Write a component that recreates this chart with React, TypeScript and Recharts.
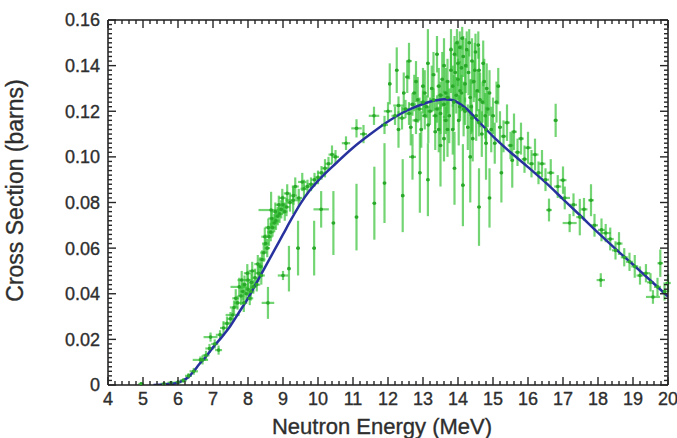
import React from "react";
import {
  ComposedChart,
  Scatter,
  Line,
  XAxis,
  YAxis,
  ErrorBar,
  Label,
} from "recharts";

// evaluated cross section (blue curve): energy in MeV, sigma in barns
const curveEnergy = [
  5.3, 5.6, 5.8, 6.0, 6.15, 6.3, 6.45, 6.6, 6.8, 7.0, 7.25, 7.5, 7.75, 8.0, 8.25, 8.5,
  8.75, 9.0, 9.25, 9.5, 9.75, 10.0, 10.5, 11.0, 11.5, 12.0, 12.5, 13.0, 13.3, 13.6,
  13.8, 14.0, 14.25, 14.5, 15.0, 15.5, 16.0, 16.5, 17.0, 17.5, 18.0, 18.5, 19.0, 19.5, 20.0,
];
const curveSigma = [
  0, 0.0002, 0.0005, 0.001, 0.002, 0.0035, 0.006, 0.009, 0.0125, 0.0165, 0.021, 0.026,
  0.032, 0.038, 0.045, 0.052, 0.059, 0.066, 0.073, 0.0795, 0.085, 0.0895, 0.097, 0.104,
  0.11, 0.1155, 0.12, 0.1232, 0.1246, 0.1253, 0.125, 0.1238, 0.121, 0.117, 0.109, 0.102,
  0.0955, 0.0888, 0.0815, 0.0742, 0.0668, 0.0597, 0.0528, 0.0458, 0.0388,
];

// measurements close to the curve: [energy, sigma, dE, dSigma]
const bandPoints: [number, number, number, number][] = [
  [4.95, 0.0005, 0.08, 0.0008], [5.6, 0.0005, 0.1, 0.0006], [5.8, 0.001, 0.1, 0.0008],
  [6.0, 0.0012, 0.1, 0.001], [6.15, 0.002, 0.1, 0.001], [6.3, 0.004, 0.1, 0.0012],
  [6.45, 0.006, 0.12, 0.0015], [6.64, 0.011, 0.22, 0.0015], [6.7, 0.011, 0.1, 0.002],
  [6.8, 0.013, 0.1, 0.002], [6.93, 0.021, 0.2, 0.002], [6.9, 0.016, 0.12, 0.002],
  [7.05, 0.018, 0.1, 0.002], [7.16, 0.0153, 0.1, 0.002], [7.2, 0.022, 0.12, 0.002],
  [7.3, 0.025, 0.1, 0.003], [7.4, 0.027, 0.12, 0.003], [7.5, 0.029, 0.1, 0.003],
  [7.56, 0.0307, 0.2, 0.003], [7.6, 0.034, 0.12, 0.003], [7.65, 0.038, 0.1, 0.004],
  [7.7, 0.036, 0.1, 0.003], [7.75, 0.043, 0.25, 0.004], [7.8, 0.039, 0.1, 0.004],
  [7.82, 0.046, 0.12, 0.004], [7.85, 0.041, 0.08, 0.004], [7.88, 0.036, 0.1, 0.004],
  [7.9, 0.044, 0.1, 0.004], [7.95, 0.04, 0.08, 0.003], [7.98, 0.049, 0.1, 0.004],
  [8.0, 0.046, 0.1, 0.004], [8.0, 0.042, 0.08, 0.003], [8.05, 0.038, 0.1, 0.003],
  [8.08, 0.041, 0.1, 0.004], [8.1, 0.045, 0.08, 0.004], [8.12, 0.05, 0.1, 0.004],
  [8.15, 0.043, 0.1, 0.003], [8.2, 0.047, 0.08, 0.004], [8.25, 0.044, 0.1, 0.003],
  [8.28, 0.053, 0.1, 0.004], [8.3, 0.049, 0.1, 0.004], [8.35, 0.052, 0.08, 0.004],
  [8.38, 0.048, 0.1, 0.004], [8.4, 0.055, 0.1, 0.004], [8.45, 0.058, 0.1, 0.004],
  [8.48, 0.065, 0.1, 0.004], [8.5, 0.062, 0.1, 0.004], [8.55, 0.06, 0.08, 0.004],
  [8.58, 0.069, 0.1, 0.004], [8.6, 0.065, 0.1, 0.004], [8.65, 0.067, 0.1, 0.004],
  [8.68, 0.073, 0.1, 0.004], [8.7, 0.069, 0.1, 0.004], [8.75, 0.071, 0.1, 0.004],
  [8.78, 0.076, 0.1, 0.004], [8.8, 0.072, 0.1, 0.004], [8.85, 0.074, 0.1, 0.004],
  [8.88, 0.079, 0.1, 0.004], [8.9, 0.075, 0.1, 0.004], [8.95, 0.077, 0.1, 0.004],
  [8.98, 0.082, 0.1, 0.004], [9.0, 0.079, 0.1, 0.004], [9.05, 0.076, 0.08, 0.004],
  [9.1, 0.078, 0.1, 0.004], [9.12, 0.084, 0.1, 0.004], [9.2, 0.08, 0.1, 0.004],
  [9.29, 0.081, 0.22, 0.006], [9.3, 0.083, 0.1, 0.004], [9.35, 0.087, 0.1, 0.004],
  [9.45, 0.082, 0.1, 0.004], [9.55, 0.089, 0.12, 0.004], [9.6, 0.086, 0.1, 0.004],
  [9.7, 0.087, 0.1, 0.003], [9.8, 0.088, 0.12, 0.003], [9.9, 0.09, 0.1, 0.003],
  [10.0, 0.091, 0.1, 0.003], [10.1, 0.093, 0.12, 0.003], [10.2, 0.095, 0.1, 0.004],
  [10.3, 0.097, 0.1, 0.003], [10.4, 0.101, 0.1, 0.004], [10.5, 0.1, 0.1, 0.003],
  [10.8, 0.106, 0.12, 0.003], [11.1, 0.1125, 0.15, 0.004], [11.3, 0.11, 0.1, 0.004],
  [11.6, 0.118, 0.15, 0.004], [11.9, 0.114, 0.1, 0.004], [12.0, 0.12, 0.12, 0.004],
  [12.2, 0.118, 0.1, 0.004], [12.3, 0.1225, 0.15, 0.004], [12.4, 0.117, 0.1, 0.005],
  [12.5, 0.121, 0.1, 0.004], [12.6, 0.119, 0.1, 0.005], [12.7, 0.123, 0.1, 0.005],
  [12.8, 0.116, 0.1, 0.006], [12.9, 0.121, 0.1, 0.005], [13.0, 0.124, 0.1, 0.005],
  [13.05, 0.118, 0.08, 0.006], [13.1, 0.122, 0.1, 0.005], [13.2, 0.12, 0.08, 0.006],
  [13.3, 0.125, 0.1, 0.005], [13.35, 0.118, 0.08, 0.006], [13.4, 0.121, 0.08, 0.006],
  [13.5, 0.127, 0.08, 0.006], [13.6, 0.123, 0.08, 0.006], [13.65, 0.116, 0.08, 0.006],
  [13.7, 0.126, 0.08, 0.007], [14.05, 0.122, 0.05, 0.005], [14.2, 0.12, 0.05, 0.006],
  [14.4, 0.117, 0.05, 0.006], [14.6, 0.115, 0.05, 0.006], [14.8, 0.112, 0.05, 0.006],
  [15.3, 0.109, 0.08, 0.007], [15.4, 0.115, 0.08, 0.008], [15.5, 0.105, 0.08, 0.006],
  [15.6, 0.111, 0.08, 0.008], [15.7, 0.102, 0.08, 0.006], [15.8, 0.108, 0.08, 0.007],
  [15.9, 0.099, 0.08, 0.006], [16.0, 0.104, 0.1, 0.007], [16.1, 0.097, 0.08, 0.006],
  [16.2, 0.101, 0.1, 0.007], [16.3, 0.093, 0.1, 0.005], [16.4, 0.097, 0.1, 0.006],
  [16.5, 0.09, 0.1, 0.005], [16.6, 0.0767, 0.08, 0.005], [16.65, 0.093, 0.1, 0.006],
  [16.79, 0.116, 0.06, 0.0073], [16.85, 0.087, 0.1, 0.005], [17.0, 0.0898, 0.1, 0.006],
  [17.05, 0.082, 0.15, 0.005], [17.19, 0.071, 0.2, 0.004], [17.3, 0.079, 0.1, 0.005],
  [17.48, 0.0736, 0.1, 0.008], [17.6, 0.077, 0.1, 0.005], [17.8, 0.081, 0.08, 0.007],
  [17.9, 0.07, 0.1, 0.005], [18.08, 0.046, 0.12, 0.003], [18.1, 0.068, 0.1, 0.005],
  [18.22, 0.0666, 0.15, 0.004], [18.35, 0.064, 0.1, 0.005], [18.5, 0.059, 0.1, 0.004],
  [18.6, 0.062, 0.1, 0.005], [18.75, 0.056, 0.1, 0.004], [18.9, 0.054, 0.1, 0.004],
  [19.05, 0.052, 0.1, 0.005], [19.2, 0.048, 0.1, 0.004], [19.37, 0.049, 0.12, 0.004],
  [19.5, 0.045, 0.1, 0.004], [19.57, 0.0386, 0.2, 0.003], [19.7, 0.043, 0.1, 0.004],
  [19.78, 0.0534, 0.08, 0.006], [19.9, 0.041, 0.1, 0.004], [20.0, 0.0447, 0.08, 0.004],
];

// scattered measurements around the 14 MeV peak
const peakPoints: [number, number, number, number][] = [
  [12.05, 0.132, 0.05, 0.009], [12.25, 0.138, 0.05, 0.01], [12.3, 0.112, 0.05, 0.008],
  [12.45, 0.128, 0.05, 0.009], [12.55, 0.135, 0.06, 0.007], [12.6, 0.142, 0.08, 0.008],
  [12.65, 0.113, 0.05, 0.008], [12.75, 0.128, 0.06, 0.008], [12.8, 0.133, 0.06, 0.009],
  [12.85, 0.125, 0.05, 0.01], [12.95, 0.112, 0.05, 0.008], [13.0, 0.131, 0.06, 0.008],
  [13.05, 0.128, 0.05, 0.01], [13.15, 0.114, 0.05, 0.008], [13.25, 0.13, 0.05, 0.01],
  [13.3, 0.136, 0.06, 0.01], [13.35, 0.111, 0.05, 0.008], [13.4, 0.145, 0.05, 0.008],
  [13.45, 0.131, 0.06, 0.008], [13.45, 0.112, 0.05, 0.01], [13.5, 0.119, 0.05, 0.009],
  [13.55, 0.134, 0.05, 0.012], [13.6, 0.14, 0.06, 0.012], [13.6, 0.108, 0.05, 0.01],
  [13.65, 0.128, 0.05, 0.011], [13.7, 0.133, 0.06, 0.01], [13.75, 0.118, 0.05, 0.012],
  [13.8, 0.138, 0.05, 0.01], [13.8, 0.147, 0.05, 0.009], [13.85, 0.131, 0.05, 0.009],
  [13.85, 0.112, 0.05, 0.011], [13.88, 0.124, 0.05, 0.012], [13.9, 0.145, 0.05, 0.008],
  [13.92, 0.137, 0.05, 0.013], [13.95, 0.127, 0.05, 0.008], [13.97, 0.15, 0.05, 0.006],
  [14.0, 0.141, 0.05, 0.01], [14.0, 0.134, 0.05, 0.009], [14.02, 0.116, 0.05, 0.011],
  [14.05, 0.148, 0.05, 0.007], [14.06, 0.129, 0.05, 0.013], [14.1, 0.128, 0.05, 0.008],
  [14.1, 0.139, 0.05, 0.01], [14.12, 0.152, 0.05, 0.005], [14.15, 0.144, 0.05, 0.009],
  [14.16, 0.121, 0.05, 0.012], [14.2, 0.132, 0.05, 0.008], [14.22, 0.14, 0.05, 0.012],
  [14.25, 0.147, 0.05, 0.008], [14.28, 0.113, 0.05, 0.01], [14.3, 0.137, 0.05, 0.01],
  [14.32, 0.15, 0.05, 0.006], [14.35, 0.126, 0.05, 0.008], [14.38, 0.122, 0.05, 0.012],
  [14.4, 0.142, 0.05, 0.01], [14.42, 0.108, 0.05, 0.01], [14.45, 0.133, 0.05, 0.009],
  [14.48, 0.138, 0.05, 0.012], [14.5, 0.146, 0.05, 0.008], [14.52, 0.118, 0.05, 0.011],
  [14.55, 0.129, 0.05, 0.009], [14.58, 0.149, 0.05, 0.006], [14.6, 0.138, 0.05, 0.01],
  [14.63, 0.125, 0.05, 0.012], [14.68, 0.11, 0.05, 0.01], [14.7, 0.124, 0.05, 0.009],
  [14.72, 0.141, 0.05, 0.01], [14.75, 0.133, 0.05, 0.01], [14.78, 0.118, 0.05, 0.01],
  [14.82, 0.13, 0.05, 0.011], [14.85, 0.121, 0.05, 0.008], [14.9, 0.128, 0.05, 0.01],
  [14.95, 0.112, 0.05, 0.01], [15.0, 0.118, 0.06, 0.008], [15.05, 0.106, 0.05, 0.009],
  [15.1, 0.124, 0.06, 0.009], [15.15, 0.131, 0.05, 0.008], [15.2, 0.113, 0.06, 0.007],
];

// low-lying measurements with large uncertainties
const broadPoints: [number, number, number, number][] = [
  [8.57, 0.036, 0.18, 0.007], [8.66, 0.0767, 0.36, 0.008], [9.0, 0.048, 0.15, 0.002],
  [9.17, 0.051, 0.05, 0.01], [9.43, 0.06, 0.05, 0.012], [9.89, 0.06, 0.05, 0.012],
  [10.09, 0.077, 0.22, 0.008], [10.44, 0.071, 0.05, 0.014], [11.1, 0.0736, 0.05, 0.0146],
  [11.61, 0.0797, 0.05, 0.016], [11.9, 0.0885, 0.05, 0.0175], [12.42, 0.083, 0.05, 0.016],
  [12.7, 0.1, 0.1, 0.01], [12.91, 0.093, 0.05, 0.0175], [13.14, 0.09, 0.05, 0.016],
  [13.14, 0.141, 0.05, 0.015], [13.5, 0.105, 0.05, 0.018], [13.7, 0.112, 0.05, 0.012],
  [13.9, 0.095, 0.05, 0.016], [14.14, 0.0876, 0.05, 0.018], [14.35, 0.1, 0.05, 0.02],
  [14.6, 0.078, 0.05, 0.017], [14.8, 0.106, 0.05, 0.016], [14.9, 0.082, 0.05, 0.013],
  [15.24, 0.093, 0.05, 0.013], [15.55, 0.0985, 0.05, 0.012],
];

const energyTicks = [4, 5, 6, 7, 8, 9, 10, 11, 12, 13, 14, 15, 16, 17, 18, 19, 20];
const sigmaTicks = [0, 0.02, 0.04, 0.06, 0.08, 0.1, 0.12, 0.14, 0.16];

const xMinor = 5;
const yMinor = 10;
const xTicksAll: number[] = [];
for (let i = 0; i < energyTicks.length - 1; i++) {
  for (let k = 0; k < xMinor; k++) {
    xTicksAll.push(+(energyTicks[i] + (k * (energyTicks[i + 1] - energyTicks[i])) / xMinor).toFixed(4));
  }
}
xTicksAll.push(energyTicks[energyTicks.length - 1]);
const yTicksAll: number[] = [];
for (let i = 0; i < sigmaTicks.length - 1; i++) {
  for (let k = 0; k < yMinor; k++) {
    yTicksAll.push(+(sigmaTicks[i] + (k * (sigmaTicks[i + 1] - sigmaTicks[i])) / yMinor).toFixed(5));
  }
}
yTicksAll.push(sigmaTicks[sigmaTicks.length - 1]);

const isMajorX = (v: number) => energyTicks.some((t) => Math.abs(t - v) < 1e-6);
const isMajorY = (v: number) => sigmaTicks.some((t) => Math.abs(t - v) < 1e-7);
const fmtY = (v: number) => (v === 0 ? "0" : v.toFixed(2));

const toRows = (pts: [number, number, number, number][]) =>
  pts.map(([x, y, dx, dy]) => ({ x, y, dx, dy }));
const curveData = curveEnergy.map((x, i) => ({ x, y: curveSigma[i] }));
const measData = [...toRows(bandPoints), ...toRows(peakPoints), ...toRows(broadPoints)];

const FONT = "'Liberation Sans', Arial, Helvetica, sans-serif";
const AXIS = "#1a1a1a";
const TICK = "#262626";
const TEXT = "#2e2e2e";
const BAR = "#36c236";
const DOT = "#2aa82a";
const CURVE = "#28329e";
const MAJOR = 8;
const MINOR = 4;

const textStyle = { stroke: TEXT, strokeWidth: 0.35 };

const BottomTick = (p: any) => {
  const { x, y, payload } = p;
  const major = isMajorX(payload.value);
  return (
    <g>
      <path d={`M${x},${y}V${y - (major ? MAJOR : MINOR)}`} stroke={TICK} strokeWidth={1.4} fill="none" />
      {major && (
        <text x={x} y={y + 20} textAnchor="middle" fontSize={18} fill={TEXT} fontFamily={FONT} style={textStyle}>
          {payload.value}
        </text>
      )}
    </g>
  );
};

const TopTick = (p: any) => {
  const { x, y, payload } = p;
  const major = isMajorX(payload.value);
  return <path d={`M${x},${y}V${y + (major ? MAJOR : MINOR)}`} stroke={TICK} strokeWidth={1.4} fill="none" />;
};

const LeftTick = (p: any) => {
  const { x, y, payload } = p;
  const major = isMajorY(payload.value);
  return (
    <g>
      <path d={`M${x},${y}H${x + (major ? MAJOR : MINOR)}`} stroke={TICK} strokeWidth={1.4} fill="none" />
      {major && (
        <text x={x - 8} y={y} dy="0.36em" textAnchor="end" fontSize={18} fill={TEXT} fontFamily={FONT} style={textStyle}>
          {fmtY(payload.value)}
        </text>
      )}
    </g>
  );
};

const RightTick = (p: any) => {
  const { x, y, payload } = p;
  const major = isMajorY(payload.value);
  return <path d={`M${x},${y}H${x - (major ? MAJOR : MINOR)}`} stroke={TICK} strokeWidth={1.4} fill="none" />;
};

const Dot = (p: any) => <circle cx={p.cx} cy={p.cy} r={1.8} fill={DOT} />;

export default function App() {
  return (
    <div style={{ position: "absolute", left: 0, top: 0, background: "#fff" }}>
      <ComposedChart width={677} height={438} margin={{ top: 19, right: 8, bottom: 0, left: 0 }}>
        <XAxis
          dataKey="x"
          type="number"
          domain={[4, 20]}
          ticks={xTicksAll}
          interval={0}
          tickSize={0}
          tickMargin={0}
          tickLine={false}
          tick={<BottomTick />}
          height={53}
          axisLine={{ stroke: AXIS, strokeWidth: 1.5 }}
          allowDataOverflow
        >
          <Label
            content={(props: any) => {
              const vb = props.viewBox;
              return (
                <text
                  x={vb.x + vb.width / 2 - 6}
                  y={vb.y + vb.height - 4}
                  textAnchor="middle"
                  fontSize={22}
                  fill={TEXT}
                  fontFamily={FONT}
                  style={textStyle}
                >
                  Neutron Energy (MeV)
                </text>
              );
            }}
          />
        </XAxis>
        <XAxis
          xAxisId="top"
          orientation="top"
          dataKey="x"
          type="number"
          domain={[4, 20]}
          ticks={xTicksAll}
          interval={0}
          tickSize={0}
          tickMargin={0}
          tickLine={false}
          tick={<TopTick />}
          height={1}
          axisLine={{ stroke: AXIS, strokeWidth: 1.5 }}
          allowDataOverflow
        />
        <YAxis
          dataKey="y"
          type="number"
          domain={[0, 0.16]}
          ticks={yTicksAll}
          interval={0}
          tickSize={0}
          tickMargin={0}
          tickLine={false}
          tick={<LeftTick />}
          width={108}
          axisLine={{ stroke: AXIS, strokeWidth: 1.5 }}
          allowDataOverflow
        >
          <Label
            content={(props: any) => {
              const vb = props.viewBox;
              const cx = 23;
              const cy = vb.y + vb.height / 2 - 12;
              return (
                <text
                  x={cx}
                  y={cy}
                  transform={`rotate(-90 ${cx} ${cy})`}
                  textAnchor="middle"
                  fontSize={23}
                  fill={TEXT}
                  fontFamily={FONT}
                  style={textStyle}
                >
                  Cross Section (barns)
                </text>
              );
            }}
          />
        </YAxis>
        <YAxis
          yAxisId="right"
          orientation="right"
          dataKey="y"
          type="number"
          domain={[0, 0.16]}
          ticks={yTicksAll}
          interval={0}
          tickSize={0}
          tickMargin={0}
          tickLine={false}
          tick={<RightTick />}
          width={1}
          axisLine={{ stroke: AXIS, strokeWidth: 1.5 }}
          allowDataOverflow
        />
        <Scatter data={measData} dataKey="y" shape={<Dot />} isAnimationActive={false}>
          <ErrorBar dataKey="dy" direction="y" width={0} stroke={BAR} strokeWidth={2.2} strokeOpacity={0.7} />
          <ErrorBar dataKey="dx" direction="x" width={0} stroke={BAR} strokeWidth={2.2} strokeOpacity={0.7} />
        </Scatter>
        <Line
          data={curveData}
          dataKey="y"
          type="monotone"
          dot={false}
          activeDot={false}
          stroke={CURVE}
          strokeWidth={2.5}
          isAnimationActive={false}
        />
      </ComposedChart>
    </div>
  );
}
